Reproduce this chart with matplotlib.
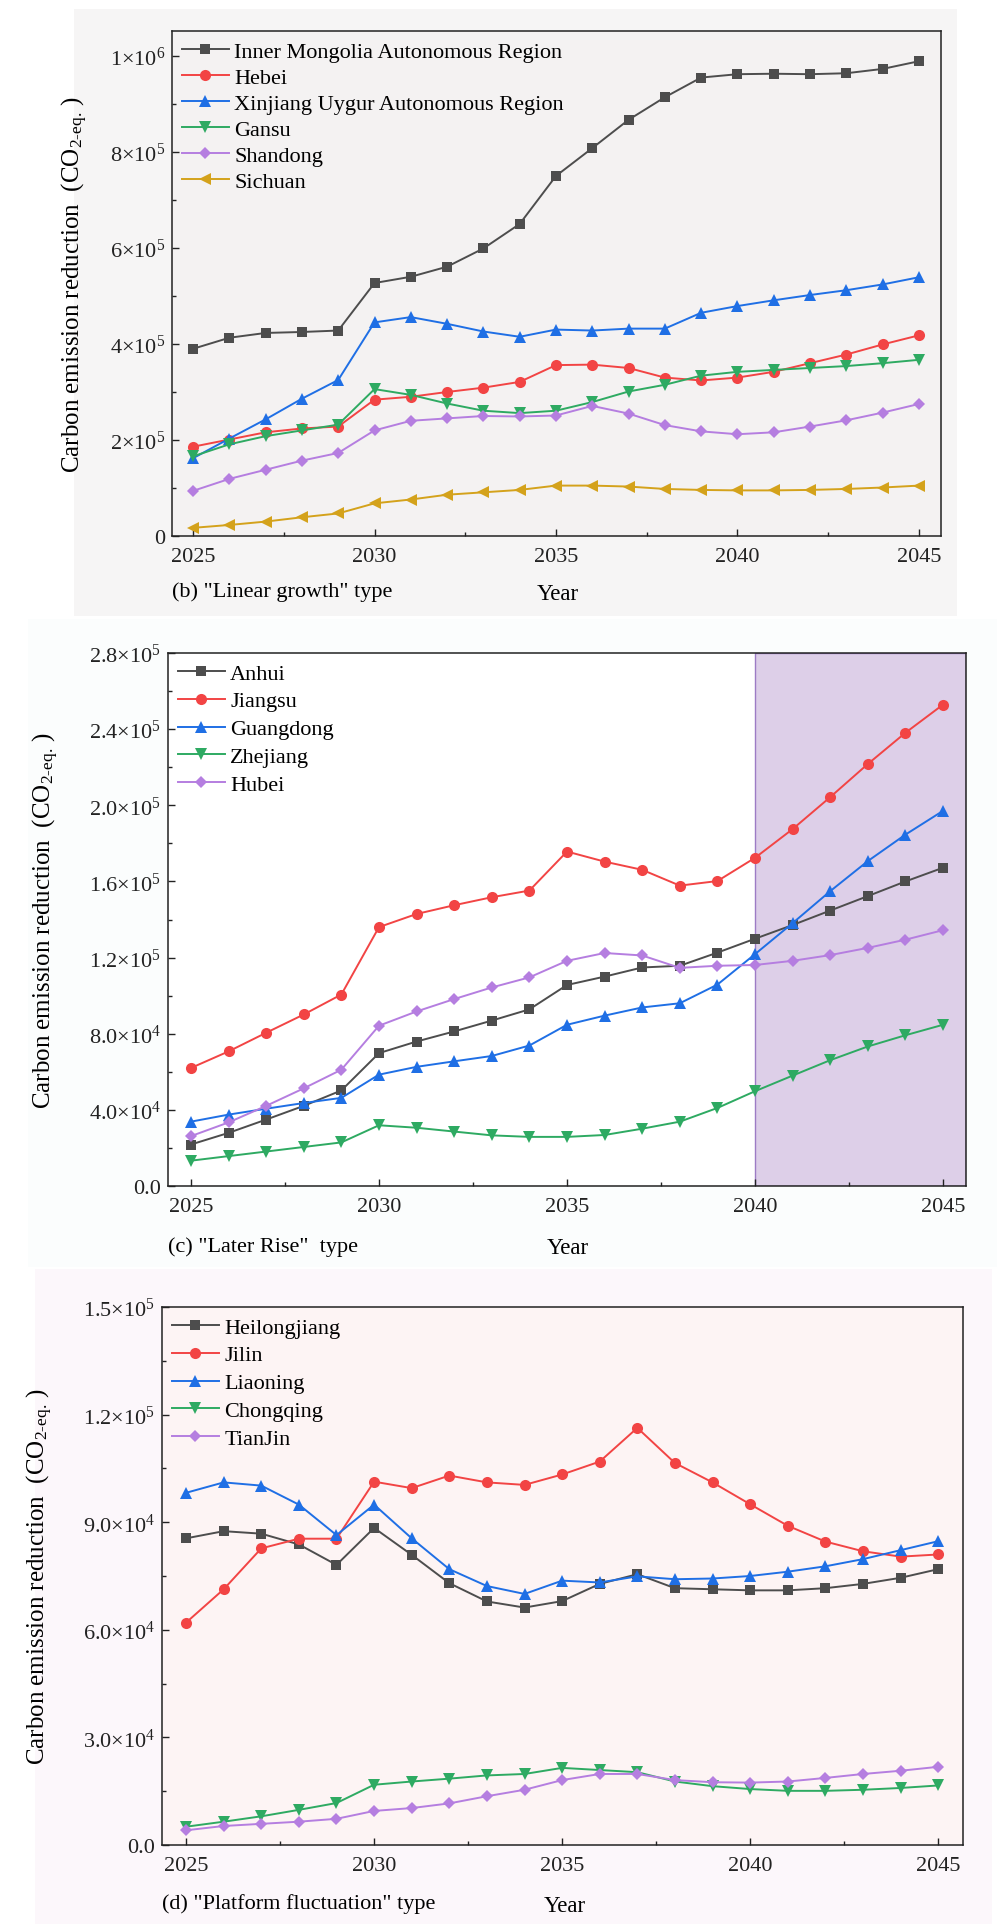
import matplotlib
matplotlib.use("Agg")
import matplotlib.pyplot as plt
from matplotlib.patches import Rectangle
from matplotlib.ticker import MultipleLocator

plt.rcParams['font.family'] = ['Liberation Serif', 'DejaVu Serif']
plt.rcParams['mathtext.fontset'] = 'custom'
plt.rcParams['mathtext.rm'] = 'Liberation Serif'
plt.rcParams['mathtext.it'] = 'Liberation Serif:italic'
plt.rcParams['mathtext.default'] = 'regular'

W, H = 1007, 1933
years = list(range(2025, 2046))

# ---- (b) linear growth (fractions of 1e6) ----
b_names = ["Inner Mongolia Autonomous Region", "Hebei", "Xinjiang Uygur Autonomous Region",
           "Gansu", "Shandong", "Sichuan"]
inner_mongolia = [0.390, 0.413, 0.423, 0.425, 0.428, 0.527, 0.540, 0.561, 0.599, 0.650, 0.750,
                  0.808, 0.867, 0.914, 0.955, 0.962, 0.963, 0.962, 0.964, 0.973, 0.989]
hebei = [0.186, 0.201, 0.216, 0.224, 0.228, 0.284, 0.290, 0.300, 0.309, 0.321, 0.356,
         0.357, 0.350, 0.330, 0.324, 0.330, 0.342, 0.360, 0.378, 0.399, 0.418]
xinjiang = [0.162, 0.203, 0.243, 0.286, 0.325, 0.445, 0.456, 0.442, 0.426, 0.415, 0.430,
            0.428, 0.432, 0.432, 0.465, 0.479, 0.491, 0.502, 0.512, 0.524, 0.539]
gansu = [0.166, 0.191, 0.208, 0.220, 0.232, 0.306, 0.294, 0.276, 0.261, 0.256, 0.261,
         0.279, 0.301, 0.315, 0.334, 0.342, 0.346, 0.350, 0.354, 0.360, 0.367]
shandong = [0.094, 0.119, 0.138, 0.157, 0.173, 0.220, 0.240, 0.245, 0.250, 0.249, 0.251,
            0.271, 0.255, 0.231, 0.218, 0.212, 0.216, 0.228, 0.241, 0.257, 0.275]
sichuan = [0.017, 0.023, 0.030, 0.039, 0.047, 0.068, 0.076, 0.086, 0.091, 0.096, 0.105,
           0.105, 0.103, 0.098, 0.096, 0.095, 0.095, 0.096, 0.098, 0.101, 0.105]
b_series = [[v * 1e6 for v in s] for s in [inner_mongolia, hebei, xinjiang, gansu, shandong, sichuan]]

# ---- (c) later rise (thousands) ----
c_names = ["Anhui", "Jiangsu", "Guangdong", "Zhejiang", "Hubei"]
anhui = [21.8, 27.9, 34.9, 42.1, 50.2, 69.8, 75.9, 81.2, 86.9, 92.8, 105.6,
         110.0, 114.8, 115.7, 122.6, 129.9, 137.1, 144.7, 152.3, 160.0, 167.2]
jiangsu = [62.0, 70.7, 80.5, 90.1, 100.6, 136.0, 142.9, 147.5, 151.7, 155.2, 175.7,
           170.4, 166.1, 157.8, 160.2, 172.4, 187.5, 204.3, 221.7, 238.1, 252.9]
guangdong = [33.8, 37.5, 40.6, 43.6, 46.3, 58.5, 62.6, 65.5, 68.3, 73.8, 84.7,
             89.5, 93.8, 96.0, 105.8, 121.8, 138.1, 154.9, 170.7, 184.6, 197.1]
zhejiang = [13.3, 15.7, 18.1, 20.5, 22.9, 31.9, 30.6, 28.6, 26.6, 25.8, 25.8,
            26.8, 30.1, 33.8, 41.0, 49.8, 58.0, 66.1, 73.3, 79.2, 84.7]
hubei = [26.2, 33.4, 42.1, 51.3, 61.1, 84.2, 91.7, 98.2, 104.3, 109.6, 118.3,
         122.4, 121.1, 114.6, 115.7, 116.1, 118.3, 121.3, 125.1, 129.4, 134.4]
c_series = [[v * 1e3 for v in s] for s in [anhui, jiangsu, guangdong, zhejiang, hubei]]

# ---- (d) platform fluctuation (thousands) ----
d_names = ["Heilongjiang", "Jilin", "Liaoning", "Chongqing", "TianJin"]
heilongjiang = [85.5, 87.5, 86.8, 83.8, 78.1, 88.4, 80.9, 73.0, 67.9, 66.2, 68.0,
                72.8, 75.5, 71.6, 71.3, 71.0, 71.0, 71.6, 72.8, 74.5, 76.9]
jilin = [62.0, 71.3, 82.7, 85.4, 85.4, 101.3, 99.5, 103.0, 101.1, 100.4, 103.3,
         106.9, 116.3, 106.5, 101.1, 95.0, 89.0, 84.6, 81.9, 80.4, 81.0]
liaoning = [98.2, 101.1, 100.2, 94.9, 86.4, 94.9, 85.5, 76.9, 72.2, 70.0, 73.7,
            73.2, 74.9, 74.1, 74.3, 75.0, 76.2, 77.7, 79.7, 82.2, 84.7]
chongqing = [5.1, 6.5, 8.0, 9.8, 11.7, 16.8, 17.7, 18.5, 19.4, 19.8, 21.5,
             20.9, 20.3, 17.7, 16.4, 15.6, 15.1, 15.1, 15.4, 15.9, 16.6]
tianjin = [4.1, 5.3, 5.9, 6.5, 7.3, 9.5, 10.3, 11.6, 13.6, 15.4, 18.1,
           19.8, 19.8, 18.1, 17.5, 17.4, 17.7, 18.7, 19.8, 20.7, 21.8]
d_series = [[v * 1e3 for v in s] for s in [heilongjiang, jilin, liaoning, chongqing, tianjin]]

colors = ['#4d4d4d', '#f24444', '#1f6fe5', '#2eaa62', '#b57ee0', '#d4a21b']
markers = ['s', 'o', '^', 'v', 'D', '<']
msizes = [7, 8, 8.5, 8.5, 6, 8.5]

b_ticks = [0, 2e5, 4e5, 6e5, 8e5, 1e6]
b_labels = ['0', '2×10$^{5}$', '4×10$^{5}$', '6×10$^{5}$', '8×10$^{5}$', '1×10$^{6}$']
c_ticks = [0, 4e4, 8e4, 1.2e5, 1.6e5, 2.0e5, 2.4e5, 2.8e5]
c_labels = ['0.0', '4.0×10$^{4}$', '8.0×10$^{4}$', '1.2×10$^{5}$', '1.6×10$^{5}$',
            '2.0×10$^{5}$', '2.4×10$^{5}$', '2.8×10$^{5}$']
d_ticks = [0, 3e4, 6e4, 9e4, 1.2e5, 1.5e5]
d_labels = ['0.0', '3.0×10$^{4}$', '6.0×10$^{4}$', '9.0×10$^{4}$', '1.2×10$^{5}$', '1.5×10$^{5}$']

ylabel = 'Carbon emission reduction  (CO$_{\\text{2-eq.}}$ )'

fig = plt.figure(figsize=(W / 100, H / 100), dpi=100, facecolor='white')


def box(x0, y0, x1, y1, color):
    fig.patches.append(Rectangle((x0 / W, 1 - y1 / H), (x1 - x0) / W, (y1 - y0) / H,
                                 transform=fig.transFigure, facecolor=color,
                                 edgecolor='none', zorder=-10))


def px_axes(left, top, right, bottom, bg):
    return fig.add_axes([left / W, 1 - bottom / H, (right - left) / W, (bottom - top) / H],
                        facecolor=bg)


def style(ax, xlim, ylim, ticks, labels, yminor, lab_x, spacing):
    ax.set_xlim(*xlim)
    ax.set_ylim(*ylim)
    ax.set_xticks([2025, 2030, 2035, 2040, 2045])
    ax.xaxis.set_minor_locator(MultipleLocator(2.5))
    ax.set_yticks(ticks)
    ax.set_yticklabels(labels)
    ax.yaxis.set_minor_locator(MultipleLocator(yminor))
    ax.tick_params(which='both', direction='in', labelsize=16, width=1, colors='#222222')
    ax.tick_params(which='major', length=5)
    ax.tick_params(which='minor', length=3)
    ax.tick_params(axis='x', pad=8)
    ax.tick_params(axis='y', pad=5)
    for s in ax.spines.values():
        s.set_linewidth(1.1)
        s.set_color('#222222')
    ax.set_ylabel(ylabel, fontsize=18)
    ax.yaxis.set_label_coords(lab_x, 0.5)
    ax.legend(loc='upper left', frameon=False, fontsize=16, handlelength=2.1,
              handletextpad=0.25, labelspacing=spacing, borderaxespad=0.15, borderpad=0.3)


def draw(ax, names, series):
    for i, (name, vals) in enumerate(zip(names, series)):
        ax.plot(years, vals, color=colors[i], marker=markers[i], markersize=msizes[i],
                markeredgewidth=0, linewidth=1.4, label=name)


# panel backgrounds
box(74, 10, 957, 617, '#f6f5f5')
box(28, 620, 997, 1268, '#fbfdfd')
box(35, 1270, 992, 1925, '#fcf7fb')

# (b)
ax1 = px_axes(172, 32, 941, 537, '#f4f2f2')
draw(ax1, b_names, b_series)
style(ax1, (2024.42, 2045.61), (0, 1.052e6), b_ticks, b_labels, 1e5, -0.107, 0.25)
fig.text(172 / W, 1 - 592 / H, '(b) "Linear growth" type', fontsize=16, ha='left', va='center')
fig.text(558 / W, 1 - 595 / H, 'Year', fontsize=16.5, ha='center', va='center')

# (c)
c_xlim = (2024.39, 2045.61)
ax2 = px_axes(168, 654, 966, 1187, 'white')
ax2.axvspan(2040, c_xlim[1], facecolor='#ddcfe8', edgecolor='#9d7cc5', linewidth=1, zorder=0)
draw(ax2, c_names, c_series)
style(ax2, c_xlim, (0, 2.8e5), c_ticks, c_labels, 2e4, -0.134, 0.33)
fig.text(168 / W, 1 - 1247 / H, '(c) "Later Rise"  type', fontsize=16, ha='left', va='center')
fig.text(568 / W, 1 - 1249 / H, 'Year', fontsize=16.5, ha='center', va='center')

# (d)
ax3 = px_axes(162, 1308, 963, 1846, '#fdf4f4')
draw(ax3, d_names, d_series)
style(ax3, (2024.36, 2045.66), (0, 1.5e5), d_ticks, d_labels, 1.5e4, -0.134, 0.33)
fig.text(162 / W, 1 - 1904 / H, '(d) "Platform fluctuation" type', fontsize=16, ha='left', va='center')
fig.text(565 / W, 1 - 1907 / H, 'Year', fontsize=16.5, ha='center', va='center')

fig.savefig('out.png', dpi=100)
